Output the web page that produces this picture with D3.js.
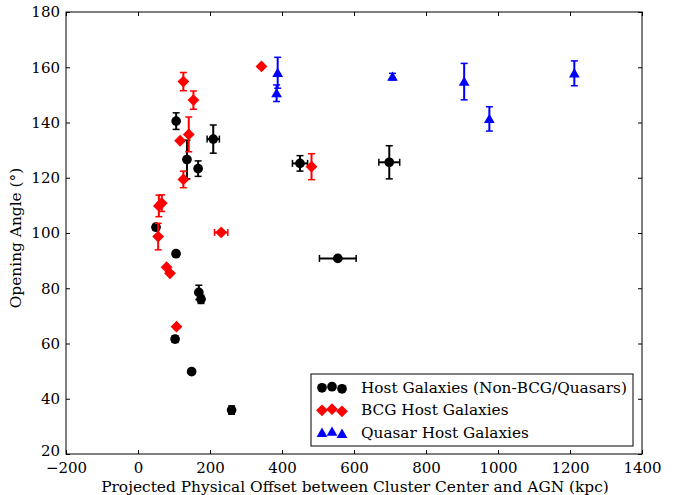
<!DOCTYPE html>
<html>
<head>
<meta charset="utf-8">
<script src="https://cdn.jsdelivr.net/npm/d3@7"></script>
<style>
  html, body { margin: 0; padding: 0; background: #fff; }
  svg text { font-family: "DejaVu Serif", serif; fill: #000; }
</style>
</head>
<body>
<svg id="chart" width="676" height="495"></svg>
<script>
// ---------- DATA ----------
// Host galaxies (non-BCG / quasars): black circles
const hostX    = [50, 106, 105.6, 136, 167, 209, 169, 175, 103, 149, 260, 450, 698, 555];
const hostY    = [102.1, 140.5, 92.5, 126.6, 123.3, 134.0, 78.5, 76.0, 61.6, 49.8, 35.9, 125.2, 125.6, 90.8];
const hostXErr = [0, 0, 0, 0, 0, 17, 0, 0, 0, 0, 0, 21, 29, 51];
const hostYErr = [1.0, 3.0, 0, 7.0, 2.8, 5.1, 2.6, 1.5, 1.2, 0, 1.5, 2.8, 6.0, 0];

// BCG host galaxies: red diamonds
const bcgX    = [126, 154, 141, 117, 126, 58, 66, 56, 231, 79.4, 88.9, 107, 343, 482];
const bcgY    = [154.8, 148.1, 135.7, 133.4, 119.4, 109.8, 110.8, 98.7, 100.2, 87.6, 85.4, 66.1, 160.3, 124.0];
const bcgXErr = [0, 0, 0, 0, 0, 0, 0, 0, 18.5, 0, 0, 0, 5, 0];
const bcgYErr = [3.3, 3.3, 6.3, 0, 3.0, 3.9, 3.0, 4.8, 0, 0, 0, 0, 0, 4.7];

// Quasar host galaxies: blue triangles
const qsoX    = [388, 385, 707, 906, 976, 1212];
const qsoY    = [158.0, 150.6, 156.6, 154.8, 141.3, 157.8];
const qsoXErr = [0, 0, 0, 0, 0, 0];
const qsoYErr = [5.6, 3.0, 1.2, 6.6, 4.4, 4.5];

const xTicks = [-200, 0, 200, 400, 600, 800, 1000, 1200, 1400];
const yTicks = [20, 40, 60, 80, 100, 120, 140, 160, 180];

const legendLabels = ["Host Galaxies (Non-BCG/Quasars)", "BCG Host Galaxies", "Quasar Host Galaxies"];
const legendColors = ["#000000", "#ff0000", "#0000ff"];
const legendShapes = ["circle", "diamond", "triangle"];

const xLabel = "Projected Physical Offset between Cluster Center and AGN (kpc)";
const yLabel = "Opening Angle (°)";

// ---------- LAYOUT ----------
const svg = d3.select("#chart");
const L = 66, R = 642, T = 12, B = 454;
const x = d3.scaleLinear().domain([-200, 1400]).range([L, R]);
const y = d3.scaleLinear().domain([20, 180]).range([B, T]);

const fmt = d => (d < 0 ? "\u2212" + Math.abs(d) : String(d));

// axes with inward ticks on all sides
const tickLen = 4;
const gx = svg.append("g").attr("transform", `translate(0,${B})`)
  .call(d3.axisBottom(x).tickValues(xTicks).tickSize(-tickLen).tickPadding(8).tickFormat(fmt));
const gxt = svg.append("g").attr("transform", `translate(0,${T})`)
  .call(d3.axisTop(x).tickValues(xTicks).tickSize(-tickLen).tickFormat(""));
const gy = svg.append("g").attr("transform", `translate(${L},0)`)
  .call(d3.axisLeft(y).tickValues(yTicks).tickSize(-tickLen).tickPadding(6).tickFormat(fmt));
const gyr = svg.append("g").attr("transform", `translate(${R},0)`)
  .call(d3.axisRight(y).tickValues(yTicks).tickSize(-tickLen).tickFormat(""));
[gx, gxt, gy, gyr].forEach(g => {
  g.select(".domain").remove();
  g.selectAll(".tick line").attr("stroke", "#000").attr("stroke-width", 1);
  g.selectAll(".tick text").style("font-family", "DejaVu Serif").style("font-size", "15px").attr("fill", "#000");
});
// nudge the lowest y label up a little so it clears the first x label
gy.selectAll(".tick text").filter(d => d === 20).attr("dy", "0.1em");

svg.append("rect").attr("x", L).attr("y", T).attr("width", R - L).attr("height", B - T)
  .attr("fill", "none").attr("stroke", "#000").attr("stroke-width", 1);

// ---------- MARKS ----------
const symbolFor = {
  circle: d3.symbol().type(d3.symbolCircle).size(74),
  diamond: d3.symbol().type(d3.symbolSquare).size(70),
  triangle: d3.symbol().type(d3.symbolTriangle).size(50)
};
function shapeTransform(shape, cx, cy) {
  if (shape === "diamond") return `translate(${cx},${cy}) rotate(45)`;
  if (shape === "triangle") return `translate(${cx},${cy + 1})`;
  return `translate(${cx},${cy})`;
}

function drawSeries(xs, ys, xe, ye, color, shape) {
  const data = xs.map((v, i) => ({ x: v, y: ys[i], xe: xe[i], ye: ye[i] }));
  const g = svg.append("g");
  const cap = 3.5;
  data.forEach(d => {
    const cx = x(d.x), cy = y(d.y);
    if (d.ye > 0) {
      const y1 = y(d.y + d.ye), y2 = y(d.y - d.ye);
      g.append("line").attr("x1", cx).attr("x2", cx).attr("y1", y1).attr("y2", y2)
        .attr("stroke", color).attr("stroke-width", 2);
      [y1, y2].forEach(yy => g.append("line").attr("x1", cx - cap).attr("x2", cx + cap)
        .attr("y1", yy).attr("y2", yy).attr("stroke", color).attr("stroke-width", 1.5));
    }
    if (d.xe > 0) {
      const x1 = x(d.x - d.xe), x2 = x(d.x + d.xe);
      g.append("line").attr("x1", x1).attr("x2", x2).attr("y1", cy).attr("y2", cy)
        .attr("stroke", color).attr("stroke-width", 2);
      [x1, x2].forEach(xx => g.append("line").attr("x1", xx).attr("x2", xx)
        .attr("y1", cy - cap).attr("y2", cy + cap).attr("stroke", color).attr("stroke-width", 1.5));
    }
  });
  g.selectAll("path.mark").data(data).join("path").attr("class", "mark")
    .attr("d", symbolFor[shape]())
    .attr("transform", d => shapeTransform(shape, x(d.x), y(d.y)))
    .attr("fill", color).attr("stroke", "none");
}

drawSeries(hostX, hostY, hostXErr, hostYErr, legendColors[0], legendShapes[0]);
drawSeries(bcgX, bcgY, bcgXErr, bcgYErr, legendColors[1], legendShapes[1]);
drawSeries(qsoX, qsoY, qsoXErr, qsoYErr, legendColors[2], legendShapes[2]);

// ---------- LABELS ----------
svg.append("text").attr("x", (L + R) / 2 + 1).attr("y", 492).attr("text-anchor", "middle")
  .style("font-size", "15.4px").text(xLabel);
svg.append("text").attr("transform", `translate(21,${(T + B) / 2 + 5}) rotate(-90)`)
  .attr("text-anchor", "middle").style("font-size", "15.4px").text(yLabel);

// ---------- LEGEND ----------
const lg = svg.append("g");
lg.append("rect").attr("x", 311).attr("y", 374).attr("width", 322).attr("height", 72)
  .attr("fill", "#fff").attr("stroke", "#000").attr("stroke-width", 1);
const legendDx = [322, 332, 342];
const legendDy = [0.8, -0.3, 1.8];
legendLabels.forEach((lab, i) => {
  const ry = 387 + i * 22.5;
  legendDx.forEach((lx, k) => {
    lg.append("path").attr("d", symbolFor[legendShapes[i]]())
      .attr("transform", shapeTransform(legendShapes[i], lx, ry + legendDy[k]))
      .attr("fill", legendColors[i]);
  });
  lg.append("text").attr("x", 361).attr("y", ry + 5.5).style("font-size", "15.3px").text(lab);
});
</script>
</body>
</html>
